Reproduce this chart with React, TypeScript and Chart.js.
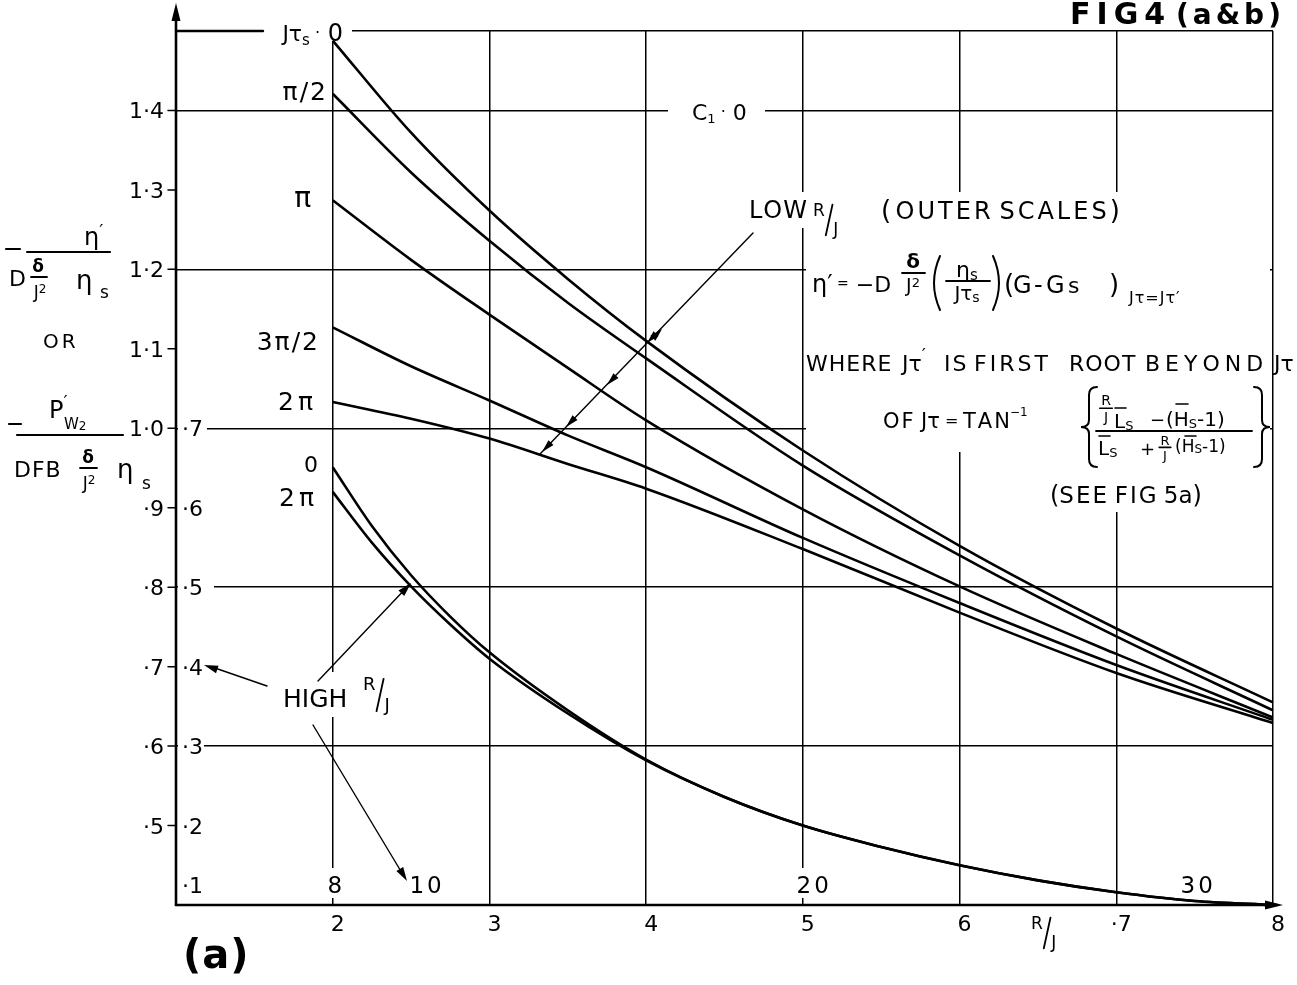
import React, { useEffect, useRef } from "react";
import { Chart, registerables } from "chart.js";

Chart.register(...registerables);

const W = 1297;
const H = 985;

// ---- data (inner scales: R/J on x, ordinate on y) ----
const rjLow = [2, 2.5, 3, 3.5, 4, 5, 6, 7, 8];
const curveJts0 = [1.488, 1.372, 1.274, 1.188, 1.11, 0.972, 0.852, 0.748, 0.655];
const curveJtsHalfPi = [1.421, 1.322, 1.236, 1.158, 1.088, 0.953, 0.84, 0.738, 0.645];
const curveJtsPi = [1.287, 1.212, 1.143, 1.076, 1.01, 0.898, 0.801, 0.716, 0.636];
const curveJts3HalfPi = [1.127, 1.078, 1.035, 0.991, 0.951, 0.862, 0.78, 0.702, 0.633];
const curveJts2Pi = [1.033, 1.012, 0.987, 0.955, 0.924, 0.848, 0.768, 0.692, 0.629];

const rjHigh = [2, 2.25, 2.5, 2.75, 3, 3.5, 4, 4.5, 5, 5.5, 6, 6.5, 7, 7.5, 8];
const curveHigh0 = [0.951, 0.877, 0.815, 0.763, 0.718, 0.645, 0.583, 0.536, 0.5, 0.473, 0.45, 0.431, 0.416, 0.405, 0.4];
const curveHigh2Pi = [0.92, 0.856, 0.801, 0.753, 0.71, 0.641, 0.582, 0.536, 0.5, 0.473, 0.45, 0.431, 0.416, 0.405, 0.4];

const gridX = [1, 2, 3, 4, 5, 6, 7, 8];
const gridY = [0.4, 0.6, 0.8, 1.0, 1.2, 1.4, 1.5];
const innerXTicks = [2, 3, 4, 5, 6, 7, 8];
const innerXLabels = ["2", "3", "4", "5", "6", "·7", "8"];
const innerYTicks = [1.4, 1.3, 1.2, 1.1, 1.0, 0.9, 0.8, 0.7, 0.6, 0.5];
const innerYLabels = ["1·4", "1·3", "1·2", "1·1", "1·0", "·9", "·8", "·7", "·6", "·5"];
const outerYTicks = [1.0, 0.9, 0.8, 0.7, 0.6, 0.5, 0.425];
const outerYLabels = ["·7", "·6", "·5", "·4", "·3", "·2", "·1"];
const outerXTicks = [2, 2.58, 5.05, 7.5];
const outerXLabels = ["8", "10", "20", "30"];

// ---- drawing helpers ----
type Run = [string, number, number?, number?, boolean?];
const FF = '"DejaVu Sans", sans-serif';

function setFont(ctx: CanvasRenderingContext2D, size: number, bold = false) {
  ctx.font = `${bold ? "bold " : ""}${size}px ${FF}`;
}
function runWidth(ctx: CanvasRenderingContext2D, r: Run) {
  const [t, s, , ls = 0, b = false] = r;
  setFont(ctx, s, b);
  if (!ls) return ctx.measureText(t).width;
  let w = 0;
  for (const ch of t) w += ctx.measureText(ch).width + ls;
  return w - ls;
}
function drawRuns(
  ctx: CanvasRenderingContext2D,
  x: number,
  y: number,
  runs: Run[],
  align: "left" | "right" | "center" = "left"
) {
  const total = runs.reduce((a, r) => a + runWidth(ctx, r), 0);
  let cx = align === "left" ? x : align === "right" ? x - total : x - total / 2;
  ctx.textAlign = "left";
  ctx.textBaseline = "alphabetic";
  for (const r of runs) {
    const [t, s, dy = 0, ls = 0, b = false] = r;
    setFont(ctx, s, b);
    if (!ls) {
      ctx.fillText(t, cx, y + dy);
      cx += ctx.measureText(t).width;
    } else {
      for (const ch of t) {
        ctx.fillText(ch, cx, y + dy);
        cx += ctx.measureText(ch).width + ls;
      }
      cx -= ls;
    }
  }
  return total;
}
function line(ctx: CanvasRenderingContext2D, x0: number, y0: number, x1: number, y1: number, w = 1.5) {
  ctx.lineWidth = w;
  ctx.beginPath();
  ctx.moveTo(x0, y0);
  ctx.lineTo(x1, y1);
  ctx.stroke();
}
function arrowHead(ctx: CanvasRenderingContext2D, tx: number, ty: number, fx: number, fy: number, len = 12, half = 3.5) {
  const a = Math.atan2(ty - fy, tx - fx);
  const bx = tx - len * Math.cos(a);
  const by = ty - len * Math.sin(a);
  ctx.beginPath();
  ctx.moveTo(tx, ty);
  ctx.lineTo(bx + half * Math.sin(a), by - half * Math.cos(a));
  ctx.lineTo(bx - half * Math.sin(a), by + half * Math.cos(a));
  ctx.closePath();
  ctx.fill();
}
function brace(ctx: CanvasRenderingContext2D, x: number, y0: number, y1: number, dir: number) {
  const ym = (y0 + y1) / 2;
  const w = 8 * dir;
  ctx.lineWidth = 2;
  ctx.beginPath();
  ctx.moveTo(x + w, y0);
  ctx.quadraticCurveTo(x, y0, x, y0 + 8);
  ctx.lineTo(x, ym - 7);
  ctx.quadraticCurveTo(x, ym, x - w, ym);
  ctx.quadraticCurveTo(x, ym, x, ym + 7);
  ctx.lineTo(x, y1 - 8);
  ctx.quadraticCurveTo(x, y1, x + w, y1);
  ctx.stroke();
}
function paren(ctx: CanvasRenderingContext2D, x: number, y0: number, y1: number, dir: number) {
  ctx.lineWidth = 2;
  ctx.beginPath();
  ctx.moveTo(x, y0);
  ctx.quadraticCurveTo(x - 12 * dir, (y0 + y1) / 2, x, y1);
  ctx.stroke();
}
function rOverJ(ctx: CanvasRenderingContext2D, x: number, yTop: number, s: number) {
  drawRuns(ctx, x, yTop + s * 0.74, [["R", s]]);
  setFont(ctx, s);
  const rw = ctx.measureText("R").width;
  line(ctx, x + rw + 1, yTop + s * 1.9, x + rw + s * 0.45, yTop + s * 0.1, 1.8);
  drawRuns(ctx, x + rw + s * 0.5, yTop + s * 1.9, [["J", s]]);
}
function stackRJ(ctx: CanvasRenderingContext2D, xc: number, yTop: number, s: number) {
  ctx.textAlign = "center";
  setFont(ctx, s);
  ctx.fillText("R", xc, yTop + s * 0.74);
  line(ctx, xc - s * 0.45, yTop + s * 0.95, xc + s * 0.45, yTop + s * 0.95, 1.6);
  ctx.fillText("J", xc, yTop + s * 1.95);
  ctx.textAlign = "left";
}

const annotPlugin = {
  id: "annot",
  beforeDatasetsDraw(chart: any) {
    const ctx: CanvasRenderingContext2D = chart.ctx;
    ctx.save();
    ctx.fillStyle = "#fff";
    const masks = [
      [263, 20, 352, 41],
      [668, 99, 765, 122],
      [745, 192, 1160, 228],
      [806, 228, 1270, 452],
      [1040, 452, 1240, 512],
      [322, 868, 342, 898],
      [785, 868, 832, 898],
      [280, 672, 412, 717],
      [178, 420, 207, 446],
      [178, 576, 214, 601],
      [178, 735, 204, 759],
    ];
    for (const [x0, y0, x1, y1] of masks) ctx.fillRect(x0, y0, x1 - x0, y1 - y0);
    ctx.restore();
  },
  afterDatasetsDraw(chart: any) {
    const ctx: CanvasRenderingContext2D = chart.ctx;
    const xs = chart.scales.x;
    const ys = chart.scales.y;
    const X = (v: number) => xs.getPixelForValue(v);
    const Y = (v: number) => ys.getPixelForValue(v);
    const x0 = X(1);
    const x8 = X(8);
    const y0 = Y(0.4);
    ctx.save();
    ctx.fillStyle = "#000";
    ctx.strokeStyle = "#000";
    ctx.lineCap = "round";

    // axes with arrows
    line(ctx, x0, y0, x0, 12, 2.6);
    arrowHead(ctx, x0, 3, x0, 40, 18, 4.5);
    line(ctx, x0, y0, x8 + 4, y0, 2.6);
    arrowHead(ctx, x8 + 10, y0, x0, y0, 18, 4.5);
    line(ctx, x0, Y(1.5), 263, Y(1.5), 2.4);

    // small ticks on the ordinate
    for (const v of innerYTicks) line(ctx, x0 - 8, Y(v), x0, Y(v), 1.5);

    // inner ordinate labels
    innerYTicks.forEach((v, i) => drawRuns(ctx, 164, Y(v) + 8, [[innerYLabels[i], 22]], "right"));
    // outer ordinate labels
    outerYTicks.forEach((v, i) => drawRuns(ctx, 182, Y(v) + 8, [[outerYLabels[i], 22]], "left"));
    // inner abscissa labels
    innerXTicks.forEach((v, i) => drawRuns(ctx, X(v) + 5, 931, [[innerXLabels[i], 22]], "center"));
    // outer abscissa labels
    outerXTicks.forEach((v, i) => drawRuns(ctx, X(v) + 2, 893, [[outerXLabels[i], 23, 0, 3]], "center"));
    // R/J under axis
    rOverJ(ctx, 1031, 916, 17);

    // curve labels
    drawRuns(ctx, 343, 41, [["Jτ", 22], ["s", 15, 4], [" ·", 16, -3], [" 0", 24]], "right");
    drawRuns(ctx, 326, 100, [["π/2", 25, 0, 2]], "right");
    drawRuns(ctx, 311, 207, [["π", 28]], "right");
    drawRuns(ctx, 318, 350, [["3π/2", 25, 0, 2]], "right");
    drawRuns(ctx, 313, 410, [["2π", 25, 0, 4]], "right");
    drawRuns(ctx, 318, 472, [["0", 22]], "right");
    drawRuns(ctx, 314, 506, [["2π", 25, 0, 4]], "right");

    // C1 = 0
    drawRuns(ctx, 692, 120, [["C", 22], ["1", 13, 3], [" ·", 16, -3], [" 0", 22]]);

    // LOW R/J (OUTER SCALES)
    drawRuns(ctx, 749, 218, [["LOW", 24, 0, 1]]);
    rOverJ(ctx, 813, 203, 17);
    drawRuns(ctx, 881, 219, [["(", 26], [" ", 14], ["OUTER", 24, 0, 3], ["  ", 14], ["SCALES", 24, 0, 3], [" ", 10], [")", 26]]);
    // leader with arrows onto the outer-scale curves
    line(ctx, 753, 233, 540, 454, 1.4);
    arrowHead(ctx, 647, 343, 753, 233, 13, 3.5);
    arrowHead(ctx, 662, 329, 540, 454, 13, 3.5);
    arrowHead(ctx, 607, 385, 753, 233, 13, 3.5);
    arrowHead(ctx, 566, 427, 753, 233, 13, 3.5);
    arrowHead(ctx, 542, 452, 753, 233, 13, 3.5);

    // formula
    drawRuns(ctx, 812, 292, [["η′", 24], [" =", 14, -4], [" −D", 22]]);
    drawRuns(ctx, 913, 268, [["δ", 20, 0, 0, true]], "center");
    line(ctx, 902, 273, 925, 273, 1.8);
    drawRuns(ctx, 913, 292, [["J", 19], ["2", 13, -5]], "center");
    paren(ctx, 940, 256, 310, 1);
    drawRuns(ctx, 967, 277, [["η", 22], ["s", 15, 3]], "center");
    line(ctx, 946, 281, 990, 281, 1.8);
    drawRuns(ctx, 967, 300, [["Jτ", 20], ["s", 14, 2]], "center");
    paren(ctx, 993, 256, 310, -1);
    drawRuns(ctx, 1004, 293, [["(", 26]]);
    drawRuns(ctx, 1013, 293, [["G", 24]]);
    drawRuns(ctx, 1034, 293, [["-", 24]]);
    drawRuns(ctx, 1046, 293, [["G", 24]]);
    drawRuns(ctx, 1068, 293, [["s", 22]]);
    drawRuns(ctx, 1109, 293, [[")", 26]]);
    drawRuns(ctx, 1129, 303, [["Jτ=Jτ′", 16, 0, 1]]);

    // WHERE ...
    drawRuns(ctx, 806, 371, [["WHERE", 22, 0, 1]]);
    drawRuns(ctx, 902, 371, [["Jτ", 22], ["′", 18, -10]]);
    drawRuns(ctx, 944, 371, [["IS", 22, 0, 2]]);
    drawRuns(ctx, 974, 371, [["FIRST", 22, 0, 3]]);
    drawRuns(ctx, 1069, 371, [["ROOT", 22, 0, 1]]);
    drawRuns(ctx, 1145, 371, [["BEYOND", 22, 0, 5]]);
    drawRuns(ctx, 1274, 371, [["Jτ", 22]]);

    // OF Jτ = TAN^-1 { ... }
    drawRuns(ctx, 883, 428, [["OF", 21, 0, 2]]);
    drawRuns(ctx, 921, 428, [["Jτ", 21], [" =", 16, -2]]);
    drawRuns(ctx, 963, 428, [["TAN", 21, 0, 2], ["−1", 12, -12]]);
    brace(ctx, 1089, 387, 467, 1);
    brace(ctx, 1262, 387, 467, -1);
    // numerator
    stackRJ(ctx, 1106, 395, 14);
    drawRuns(ctx, 1114, 428, [["L", 20], ["S", 13, 2]]);
    line(ctx, 1115, 408, 1126, 408, 1.6);
    drawRuns(ctx, 1150, 426, [["−", 18]]);
    drawRuns(ctx, 1166, 426, [["(H", 20], ["S", 13, 2], ["-1)", 20]]);
    line(ctx, 1176, 404, 1188, 404, 1.6);
    line(ctx, 1096, 431, 1252, 431, 1.8);
    // denominator
    drawRuns(ctx, 1098, 455, [["L", 20], ["S", 13, 2]]);
    line(ctx, 1099, 436, 1110, 436, 1.6);
    drawRuns(ctx, 1140, 455, [["+", 18]]);
    stackRJ(ctx, 1165, 435, 13);
    drawRuns(ctx, 1175, 452, [["(H", 17], ["S", 12, 1], ["-1)", 17]]);
    line(ctx, 1185, 436, 1196, 436, 1.6);

    // (SEE FIG 5a)
    drawRuns(ctx, 1050, 503, [["(", 24], ["SEE", 23, 0, 2], ["  ", 12], ["FIG", 23, 0, 2], [" 5a", 23], [")", 24]]);

    // HIGH R/J
    drawRuns(ctx, 283, 707, [["HIGH", 25]]);
    rOverJ(ctx, 363, 677, 18);
    line(ctx, 318, 681, 409, 585, 1.4);
    arrowHead(ctx, 411, 583, 318, 681, 14, 4);
    line(ctx, 267, 686, 212, 667, 1.4);
    arrowHead(ctx, 204, 665, 267, 686, 14, 4);
    line(ctx, 313, 725, 402, 873, 1.4);
    arrowHead(ctx, 407, 881, 313, 725, 14, 4);

    // ordinate title
    line(ctx, 6, 249, 20, 249, 2.2);
    drawRuns(ctx, 84, 245, [["η", 24], ["′", 18, -8]]);
    line(ctx, 27, 252, 110, 252, 2.2);
    drawRuns(ctx, 9, 286, [["D", 22]]);
    drawRuns(ctx, 38, 272, [["δ", 17, 0, 0, true]], "center");
    line(ctx, 31, 277, 47, 277, 1.8);
    drawRuns(ctx, 40, 298, [["J", 17], ["2", 12, -5]], "center");
    drawRuns(ctx, 76, 289, [["η", 26]]);
    drawRuns(ctx, 100, 298, [["s", 17]]);

    drawRuns(ctx, 43, 348, [["OR", 20, 0, 3]]);

    line(ctx, 9, 424, 21, 424, 2.2);
    drawRuns(ctx, 49, 418, [["P", 24], ["′", 18, -10]]);
    drawRuns(ctx, 64, 429, [["W", 15], ["2", 12, 1]]);
    line(ctx, 17, 435, 123, 435, 2.2);
    drawRuns(ctx, 14, 477, [["DFB", 22, 0, 1]]);
    drawRuns(ctx, 88, 463, [["δ", 17, 0, 0, true]], "center");
    line(ctx, 80, 468, 97, 468, 1.8);
    drawRuns(ctx, 89, 489, [["J", 17], ["2", 12, -5]], "center");
    drawRuns(ctx, 117, 478, [["η", 26]]);
    drawRuns(ctx, 142, 489, [["s", 17]]);

    // figure captions
    drawRuns(ctx, 1070, 24, [["FIG4", 30, 0, 6, true]]);
    drawRuns(ctx, 1176, 24, [["(a&b)", 28, 0, 4, true]]);
    drawRuns(ctx, 183, 968, [["(a)", 40, 0, 1, true]]);

    ctx.restore();
  },
};

function mk(label: string, xv: number[], yv: number[]) {
  return {
    label,
    data: xv.map((x, i) => ({ x, y: yv[i] })),
    borderColor: "#000",
    borderWidth: 2.6,
    pointRadius: 0,
    fill: false,
    cubicInterpolationMode: "monotone" as const,
    clip: 6,
  };
}

export default function App() {
  const ref = useRef<HTMLCanvasElement | null>(null);
  useEffect(() => {
    if (!ref.current) return;
    const chart = new Chart(ref.current, {
      type: "line",
      data: {
        datasets: [
          mk("Jτs = 0", rjLow, curveJts0),
          mk("π/2", rjLow, curveJtsHalfPi),
          mk("π", rjLow, curveJtsPi),
          mk("3π/2", rjLow, curveJts3HalfPi),
          mk("2π", rjLow, curveJts2Pi),
          mk("0 (high R/J)", rjHigh, curveHigh0),
          mk("2π (high R/J)", rjHigh, curveHigh2Pi),
        ],
      },
      options: {
        responsive: false,
        animation: false,
        layout: { padding: { left: 176, right: 24, top: 31, bottom: 80 } },
        plugins: { legend: { display: false }, tooltip: { enabled: false } },
        scales: {
          x: {
            type: "linear",
            min: 1,
            max: 8,
            border: { display: false },
            grid: { color: "#000", lineWidth: 1.5, drawTicks: false },
            ticks: { display: false },
            afterBuildTicks: (s: any) => {
              s.ticks = gridX.map((v) => ({ value: v }));
            },
          },
          y: {
            type: "linear",
            min: 0.4,
            max: 1.5,
            border: { display: false },
            grid: { color: "#000", lineWidth: 1.5, drawTicks: false },
            ticks: { display: false },
            afterBuildTicks: (s: any) => {
              s.ticks = gridY.map((v) => ({ value: v }));
            },
          },
        },
      },
      plugins: [annotPlugin],
    });
    return () => chart.destroy();
  }, []);
  return (
    <div style={{ position: "fixed", left: 0, top: 0, width: W, height: H, background: "#fff" }}>
      <canvas ref={ref} width={W} height={H} style={{ display: "block", width: W, height: H }} />
    </div>
  );
}
